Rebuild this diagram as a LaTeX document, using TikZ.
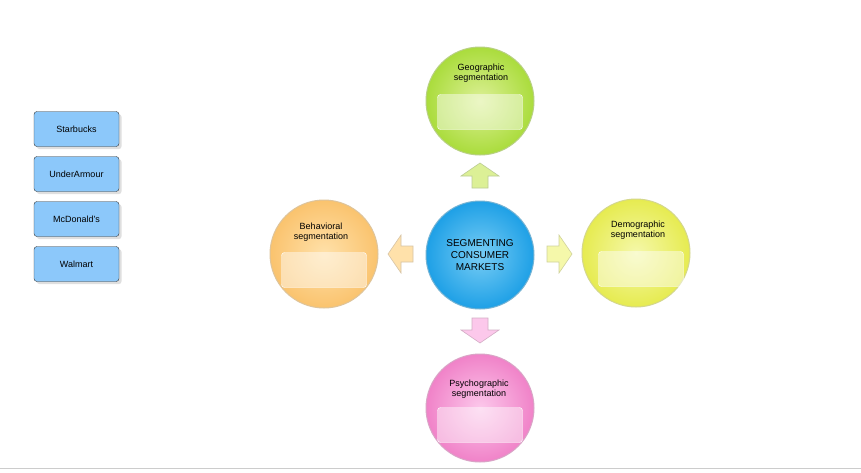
\documentclass[tikz,border=0pt]{standalone}
\usepackage{fontspec}
\setmainfont{Liberation Sans}
\usetikzlibrary{shadows}
\definecolor{boxblue}{RGB}{140,200,250}
\definecolor{gA}{RGB}{170,220,60}\definecolor{gB}{RGB}{220,240,150}
\definecolor{cA}{RGB}{30,160,230}\definecolor{cB}{RGB}{120,205,245}
\definecolor{oA}{RGB}{250,195,110}\definecolor{oB}{RGB}{255,225,170}
\definecolor{yA}{RGB}{230,235,80}\definecolor{yB}{RGB}{245,248,170}
\definecolor{pA}{RGB}{240,130,200}\definecolor{pB}{RGB}{252,200,235}
\begin{document}
\begin{tikzpicture}[x=1pt,y=-1pt,
 brand/.style={draw=black!80,fill=boxblue,rounded corners=3pt,minimum width=85pt,minimum height=35pt,font=\fontsize{9}{10}\selectfont,drop shadow={opacity=0.25}},
 seg/.style={circle,minimum size=108pt,draw=#1A!80!black!60,line width=1pt,inner color=#1B,outer color=#1A},
 lbl/.style={font=\fontsize{9}{10.5}\selectfont,align=center},
 win/.style={draw=white,fill=white,fill opacity=0.45,rounded corners=3pt,minimum width=85pt,minimum height=35pt},
 arr/.style={draw=#1A!70!black!50,fill=#1B,line width=0.6pt}]
\useasboundingbox (0,0) rectangle (861,472);
\fill[white] (0,0) rectangle (861,472);
\draw[gray!40] (0,468) -- (861,468);
\node[brand] (b1) at (76.5,129) {Starbucks};
\node[brand] (b2) at (76.5,174) {UnderArmour};
\node[brand] (b3) at (76.5,219) {McDonald's};
\node[brand] (b4) at (76.5,264) {Walmart};

\node[seg=c] (c) at (480,255) {};
\node[lbl,font=\fontsize{10}{12}\selectfont] at (c) {SEGMENTING\\CONSUMER\\MARKETS};
\node[seg=g] (g) at (480,101) {};
\node[seg=o] (o) at (324,254) {};
\node[seg=y] (y) at (636,253) {};
\node[seg=p] (p) at (480,408) {};
\node[win] at (480,112) {};
\node[win] at (324,270) {};
\node[win] at (641,269) {};
\node[win] at (480,425) {};
\node[lbl] at (481,73) {Geographic\\segmentation};
\node[lbl] at (321,232) {Behavioral\\segmentation};
\node[lbl] at (638,230) {Demographic\\segmentation};
\node[lbl] at (479,389) {Psychographic\\segmentation};
% arrows
\draw[arr=g] (480,163) -- (499,176) -- (488,176) -- (488,188) -- (472,188) -- (472,176) -- (461,176) -- cycle;
\draw[arr=p] (480,343) -- (499,330) -- (488,330) -- (488,318) -- (472,318) -- (472,330) -- (461,330) -- cycle;
\draw[arr=o] (388,254) -- (401,235) -- (401,246) -- (413,246) -- (413,262) -- (401,262) -- (401,273) -- cycle;
\draw[arr=y] (572,254) -- (559,235) -- (559,246) -- (547,246) -- (547,262) -- (559,262) -- (559,273) -- cycle;
\end{tikzpicture}
\end{document}
